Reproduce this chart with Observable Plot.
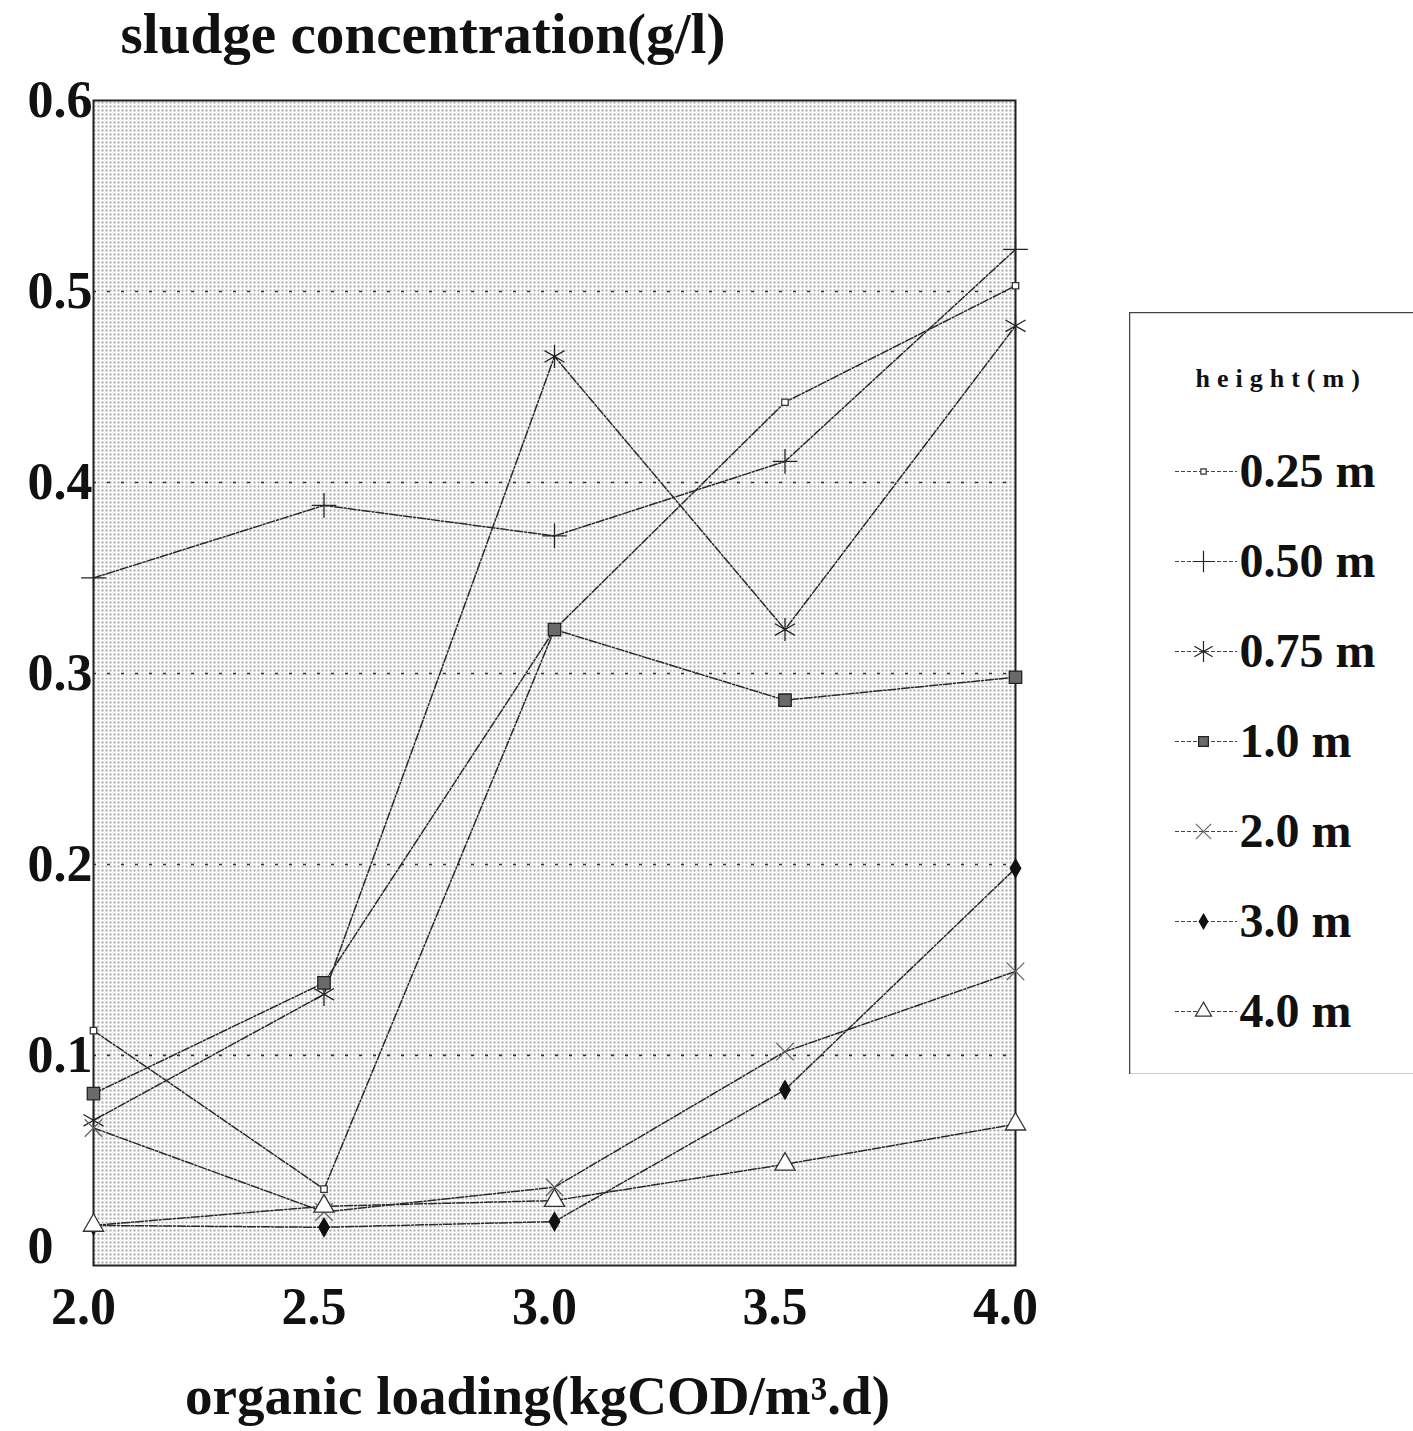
<!DOCTYPE html>
<html>
<head>
<meta charset="utf-8">
<script src="https://cdn.jsdelivr.net/npm/d3@7"></script>
<script src="https://cdn.jsdelivr.net/npm/@observablehq/plot@0.6"></script>
<style>
  html, body { margin: 0; padding: 0; background: #fff; overflow: hidden; }
  #wrap { position: relative; width: 1413px; height: 1431px; overflow: hidden; }
  #legend { position: absolute; left: 1129px; top: 312px; width: 300px; }
  #wrap svg { max-width: none !important; font-family: "Liberation Serif", "DejaVu Serif", serif; }
</style>
</head>
<body>
<div id="wrap">
  <div id="chart"></div>
  <div id="legend"></div>
</div>
<script>
// Organic loading (kgCOD/m3.d) on the x axis
const loading = [2.0, 2.5, 3.0, 3.5, 4.0];

// Sampling heights (series names)
const heights = ["0.25 m", "0.50 m", "0.75 m", "1.0 m", "2.0 m", "3.0 m", "4.0 m"];

// Sludge concentration (g/l) per height, one value per loading
const h025 = [0.113, 0.030, 0.323, 0.442, 0.503];
const h050 = [0.350, 0.388, 0.372, 0.411, 0.522];
const h075 = [0.066, 0.132, 0.466, 0.323, 0.482];
const h100 = [0.080, 0.138, 0.323, 0.286, 0.298];
const h200 = [0.062, 0.018, 0.031, 0.102, 0.144];
const h300 = [0.011, 0.010, 0.013, 0.082, 0.198];
const h400 = [0.011, 0.021, 0.024, 0.043, 0.064];

// Axis ticks and titles
const yTicks = [0, 0.1, 0.2, 0.3, 0.4, 0.5, 0.6];
const xTicks = [2.0, 2.5, 3.0, 3.5, 4.0];
const yTitle = "sludge concentration(g/l)";
const xTitle = "organic loading(kgCOD/m³.d)";
const legendTitle = "height(m)";

const seriesValues = [h025, h050, h075, h100, h200, h300, h400];
const rows = heights.flatMap((h, i) =>
  loading.map((x, j) => ({series: h, loading: x, conc: seriesValues[i][j]}))
);

// Marker style for each height
const markerStyle = {
  "0.25 m": {symbol: "square", fill: "white", stroke: "#333", r: 3.6, lr: 3},
  "0.50 m": {symbol: "plus", fill: "none", stroke: "#222", r: 8, lr: 7},
  "0.75 m": {symbol: "asterisk", fill: "none", stroke: "#222", r: 11, lr: 10},
  "1.0 m":  {symbol: "square", fill: "#6a6a6a", stroke: "#222", r: 7, lr: 5.5},
  "2.0 m":  {symbol: "times", fill: "none", stroke: "#666", r: 8, lr: 7},
  "3.0 m":  {symbol: "diamond", fill: "#111", stroke: "#111", r: 5.5, lr: 4.5},
  "4.0 m":  {symbol: "triangle", fill: "white", stroke: "#333", r: 7.5, lr: 6}
};

const seriesDots = heights.map(h => {
  const s = markerStyle[h];
  return Plot.dot(rows.filter(d => d.series === h), {
    x: "loading", y: "conc", symbol: s.symbol, r: s.r,
    fill: s.fill, stroke: s.stroke, strokeWidth: 1.3
  });
});

const chart = Plot.plot({
  width: 1413,
  height: 1431,
  marginLeft: 93,
  marginRight: 398,
  marginTop: 100,
  marginBottom: 166,
  style: {fontFamily: "Liberation Serif, serif", fontWeight: "bold", color: "#111", background: "white"},
  x: {domain: [2, 4], label: null},
  y: {domain: [-0.01, 0.6], label: null},
  marks: [
    Plot.frame({fill: "#e4e4e4"}),
    Plot.ruleY(yTicks.filter(v => v > 0 && v < 0.6), {stroke: "#333", strokeWidth: 1.6, strokeDasharray: "3,11"}),
    Plot.frame({stroke: "#222", strokeWidth: 2}),
    Plot.axisY(yTicks, {
      tickSize: 0, tickPadding: 66, fontSize: 52, textAnchor: "start",
      tickFormat: d => d === 0 ? "0" : d.toFixed(1)
    }),
    Plot.axisX(xTicks, {
      tickSize: 0, tickPadding: 22, fontSize: 52, dx: -10,
      tickFormat: d => d.toFixed(1)
    }),
    Plot.line(rows, {
      x: "loading", y: "conc", z: "series",
      stroke: "#2a2a2a", strokeWidth: 1.5, strokeDasharray: "8,2,2,2"
    }),
    ...seriesDots,
    Plot.text([yTitle], {
      frameAnchor: "top-left", dx: 27, dy: -66, textAnchor: "start",
      lineAnchor: "middle", fontSize: 58, fontWeight: "bold", fill: "#111"
    }),
    Plot.text([xTitle], {
      frameAnchor: "bottom", dx: -17, dy: 131,
      lineAnchor: "middle", fontSize: 55, fontWeight: "bold", fill: "#111"
    })
  ]
});

// Halftone dot screen for the plotting area
const defs = d3.select(chart).insert("defs", ":first-child");
const pat = defs.append("pattern")
  .attr("id", "halftone").attr("patternUnits", "userSpaceOnUse")
  .attr("width", 4).attr("height", 4);
pat.append("rect").attr("width", 4).attr("height", 4).attr("fill", "white");
pat.append("rect").attr("x", 1).attr("y", 1).attr("width", 2).attr("height", 2).attr("fill", "#a8a8a8");
const firstFrame = d3.select(chart).select('[aria-label="frame"]');
(firstFrame.node().tagName.toLowerCase() === "rect" ? firstFrame : firstFrame.select("rect"))
  .attr("fill", "url(#halftone)");

// Condensed title lettering
d3.select(chart).selectAll('g[aria-label="text"] text').each(function () {
  const t = this.textContent;
  if (t === yTitle) d3.select(this).attr("textLength", 605).attr("lengthAdjust", "spacingAndGlyphs");
  if (t === xTitle) d3.select(this).attr("textLength", 705).attr("lengthAdjust", "spacingAndGlyphs");
});

document.getElementById("chart").append(chart);

// Legend: one row per height with a line sample, its marker and its name
const legendDots = heights.map(h => {
  const s = markerStyle[h];
  return Plot.dot([h], {
    y: d => d, frameAnchor: "left", dx: 74, symbol: s.symbol, r: s.lr,
    fill: s.fill, stroke: s.stroke, strokeWidth: 1.2
  });
});

const legend = Plot.plot({
  width: 300,
  height: 762,
  margin: 0,
  style: {fontFamily: "Liberation Serif, serif", fontWeight: "bold", color: "#111", background: "white"},
  y: {type: "point", domain: heights, range: [158, 700], padding: 0, axis: null},
  marks: [
    Plot.frame({stroke: "#444", strokeWidth: 1.5}),
    Plot.ruleY(heights, {y: d => d, insetLeft: 46, insetRight: 192, stroke: "#444", strokeWidth: 1, strokeDasharray: "4,2"}),
    ...legendDots,
    Plot.text(heights, {
      y: d => d, text: d => d, frameAnchor: "left", dx: 110,
      textAnchor: "start", fontSize: 48, fontWeight: "bold", fill: "#111"
    }),
    Plot.text([legendTitle], {
      frameAnchor: "top-left", dx: 66, dy: 56, textAnchor: "start",
      fontSize: 26, fontWeight: "bold", fill: "#111"
    })
  ]
});
d3.select(legend).selectAll('g[aria-label="text"] text').each(function () {
  if (this.textContent === legendTitle) d3.select(this).attr("letter-spacing", 7);
});
document.getElementById("legend").append(legend);
</script>
</body>
</html>
